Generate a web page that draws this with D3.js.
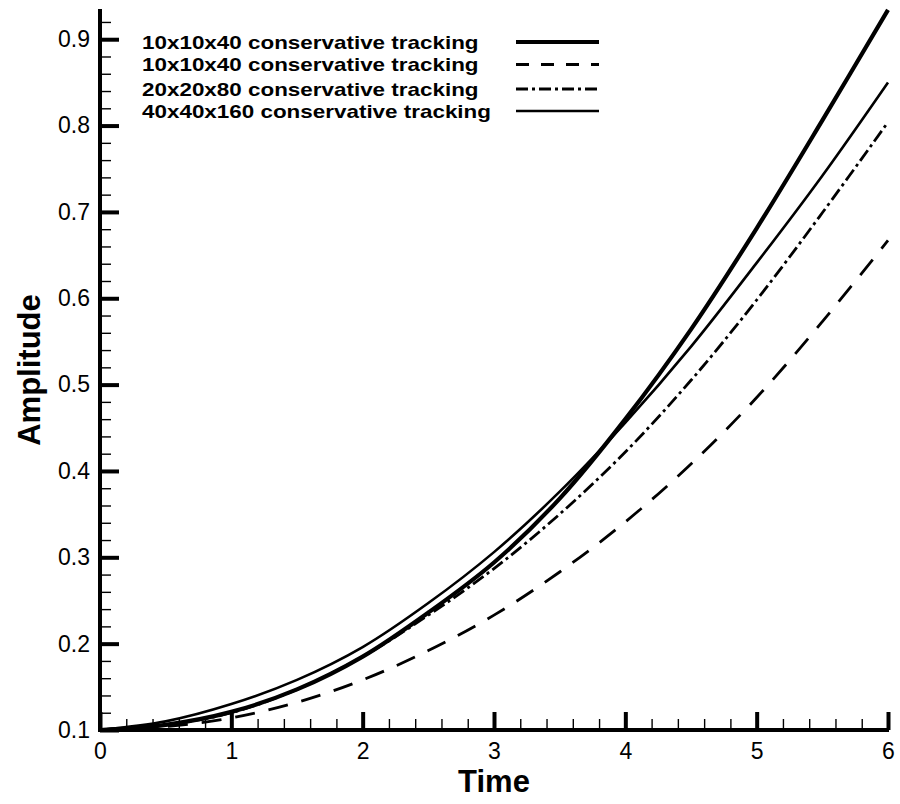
<!DOCTYPE html>
<html>
<head>
<meta charset="utf-8">
<script src="https://cdn.jsdelivr.net/npm/d3@7"></script>
<style>
body { margin: 0; background: #fff; }
svg { display: block; font-family: "Liberation Sans", Arial, sans-serif; }
</style>
</head>
<body>
<svg id="plot" width="900" height="804"></svg>
<script>
// time samples and amplitude series
var times = [0, 0.5, 1, 1.5, 2, 2.5, 3, 3.5, 4, 4.5, 5, 5.5, 6];
var coarseSolid = [0.1, 0.106, 0.121, 0.147, 0.185, 0.236, 0.294, 0.368, 0.460, 0.564, 0.681, 0.806, 0.934];
var coarseDashed = [0.1, 0.104, 0.114, 0.132, 0.158, 0.192, 0.233, 0.283, 0.341, 0.408, 0.485, 0.573, 0.667];
var medium = [0.1, 0.106, 0.120, 0.147, 0.185, 0.233, 0.287, 0.350, 0.422, 0.505, 0.598, 0.699, 0.804];
var fine = [0.1, 0.110, 0.130, 0.158, 0.196, 0.247, 0.306, 0.376, 0.456, 0.544, 0.641, 0.742, 0.850];

var seriesNames = ["10x10x40 conservative tracking", "10x10x40 conservative tracking",
    "20x20x80 conservative tracking", "40x40x160 conservative tracking"];
var seriesValues = [coarseSolid, coarseDashed, medium, fine];
var seriesWidth = [4.2, 2.8, 2.8, 2.6];
var seriesDash = [null, "20,14", "13,4,3,4", null];
var legendDash = [null, "13,12", "12,4,3,4", null];

var xMajor = [0, 1, 2, 3, 4, 5, 6];
var yMajor = [0.1, 0.2, 0.3, 0.4, 0.5, 0.6, 0.7, 0.8, 0.9];

var svg = d3.select("#plot");
var x = d3.scaleLinear().domain([0, 6]).range([100, 888]);
var y = d3.scaleLinear().domain([0.1, 0.935]).range([730, 9]);

var xMinor = d3.range(0, 6.001, 0.2).filter(function(v){ return Math.abs(v - Math.round(v)) > 1e-6; });
var yMinor = d3.range(0.1, 0.935, 0.02).filter(function(v){ return Math.abs(v * 10 - Math.round(v * 10)) > 1e-6; });

// minor ticks
svg.append("g").attr("transform", "translate(0,730)")
    .call(d3.axisBottom(x).tickValues(xMinor).tickSizeInner(-11).tickSizeOuter(0).tickFormat(""))
    .call(function(g){ g.select(".domain").remove(); g.selectAll("line").attr("stroke", "#000").attr("stroke-width", 1.4); });
svg.append("g").attr("transform", "translate(100,0)")
    .call(d3.axisLeft(y).tickValues(yMinor).tickSizeInner(-11).tickSizeOuter(0).tickFormat(""))
    .call(function(g){ g.select(".domain").remove(); g.selectAll("line").attr("stroke", "#000").attr("stroke-width", 1.4); });

// major ticks + labels
var xAxis = svg.append("g").attr("transform", "translate(0,730)")
    .call(d3.axisBottom(x).tickValues(xMajor).tickSizeInner(-18).tickSizeOuter(0).tickPadding(13).tickFormat(d3.format("d")));
var yAxis = svg.append("g").attr("transform", "translate(100,0)")
    .call(d3.axisLeft(y).tickValues(yMajor).tickSizeInner(-19).tickSizeOuter(0).tickPadding(10).tickFormat(d3.format(".1f")));
[xAxis, yAxis].forEach(function(g){
    g.select(".domain").remove();
    g.selectAll("line").attr("stroke", "#000").attr("stroke-width", 4);
    g.selectAll("text").attr("font-size", 23).attr("fill", "#000");
});

// curves
var line = d3.line()
    .x(function(d, i){ return x(times[i]); })
    .y(function(d){ return y(d); })
    .curve(d3.curveCatmullRom);

svg.append("g").selectAll("path").data(seriesValues).enter()
    .append("path")
    .attr("d", line)
    .attr("fill", "none")
    .attr("stroke", "#000")
    .attr("stroke-width", function(d, i){ return seriesWidth[i]; })
    .attr("stroke-dasharray", function(d, i){ return seriesDash[i]; });

// axis lines
svg.append("line").attr("x1", 100).attr("x2", 100).attr("y1", 9).attr("y2", 732)
    .attr("stroke", "#000").attr("stroke-width", 4);
svg.append("line").attr("x1", 98).attr("x2", 889).attr("y1", 730).attr("y2", 730)
    .attr("stroke", "#000").attr("stroke-width", 4);

// axis titles
svg.append("text").attr("x", 494).attr("y", 792).attr("text-anchor", "middle")
    .attr("font-size", 31).attr("font-weight", "bold").text("Time");
svg.append("text").attr("transform", "translate(40,370) rotate(-90)").attr("text-anchor", "middle")
    .attr("font-size", 31).attr("font-weight", "bold").text("Amplitude");

// legend (text is drawn wide, like the original)
var legendY = [42, 64.5, 89, 111];
var legend = svg.append("g").selectAll("g").data(seriesNames).enter()
    .append("g").attr("transform", function(d, i){ return "translate(0," + legendY[i] + ")"; });
legend.append("text").attr("x", 142).attr("dy", "0.35em")
    .attr("font-size", 19).attr("font-weight", "bold").text(function(d){ return d; })
    .each(function(){
        var w = this.getComputedTextLength();
        d3.select(this).attr("textLength", w * 1.18).attr("lengthAdjust", "spacingAndGlyphs");
    });
legend.append("line").attr("x1", 516).attr("x2", 599)
    .attr("stroke", "#000")
    .attr("stroke-width", function(d, i){ return seriesWidth[i]; })
    .attr("stroke-dasharray", function(d, i){ return legendDash[i]; });
</script>
</body>
</html>
